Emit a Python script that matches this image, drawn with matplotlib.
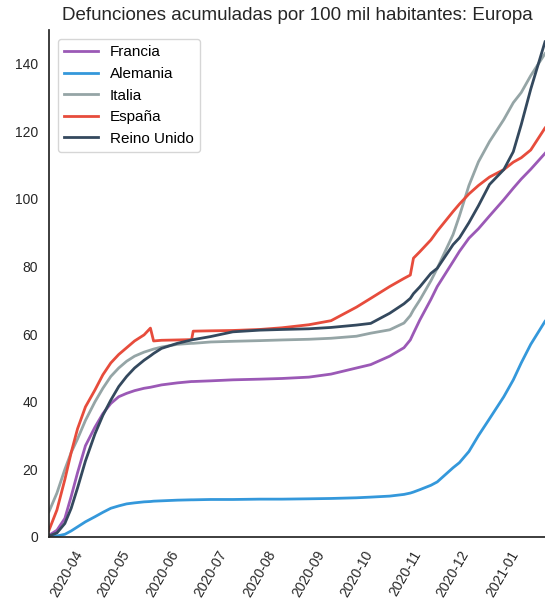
import numpy as np
import pandas as pd
import matplotlib
matplotlib.use('Agg')
import matplotlib.pyplot as plt
import matplotlib.dates as mdates

plt.rcParams['font.family'] = ['Liberation Sans', 'DejaVu Sans']

# fechas de lectura (aprox.) y defunciones acumuladas por 100 mil habitantes
fechas = ['2020-03-21', '2020-03-26', '2020-03-31', '2020-04-04', '2020-04-08',
          '2020-04-13', '2020-04-19', '2020-04-24', '2020-04-29', '2020-05-04',
          '2020-05-09', '2020-05-14', '2020-05-20', '2020-05-24', '2020-05-26',
          '2020-05-31', '2020-06-10', '2020-06-19', '2020-06-20', '2020-07-01',
          '2020-07-15', '2020-08-01', '2020-08-15', '2020-09-01', '2020-09-15',
          '2020-10-01', '2020-10-10', '2020-10-22', '2020-10-31', '2020-11-04',
          '2020-11-06', '2020-11-10', '2020-11-17', '2020-11-21', '2020-12-01',
          '2020-12-05', '2020-12-11', '2020-12-17', '2020-12-24', '2021-01-02',
          '2021-01-08', '2021-01-13', '2021-01-19', '2021-01-28']

francia = [0.5, 2, 5.5, 12, 19, 27, 32.5, 36.5, 39.5, 41.5,
           42.5, 43.3, 44, 44.3, 44.5, 45, 45.6, 46, 46, 46.2,
           46.5, 46.7, 46.9, 47.3, 48.2, 50, 51, 53.5, 56, 58.3,
           60.3, 64.2, 70.3, 74.1, 81.5, 84.5, 88.4, 91.2, 95, 99.8,
           103.2, 105.9, 108.8, 113.5]
alemania = [0.1, 0.3, 0.8, 1.8, 3, 4.5, 6, 7.3, 8.5, 9.2,
            9.8, 10.1, 10.4, 10.5, 10.6, 10.7, 10.9, 11, 11, 11.1,
            11.1, 11.2, 11.2, 11.3, 11.4, 11.6, 11.8, 12.1, 12.6, 13,
            13.3, 14, 15.3, 16.3, 20.5, 22, 25.3, 30, 35, 41.5,
            46.5, 51.5, 57, 63.8]
italia = [7.5, 13, 20, 25, 29, 34.5, 40, 44, 47.5, 50,
          52, 53.5, 54.7, 55.3, 55.6, 56.2, 57, 57.3, 57.3, 57.7,
          57.9, 58.1, 58.3, 58.5, 58.8, 59.4, 60.3, 61.3, 63.3, 65.5,
          67.2, 70.1, 75.8, 79.5, 89.5, 95, 104, 111, 117, 123.5,
          128.5, 131.5, 136.5, 143]
espana = [2, 8, 17, 25, 32, 38.5, 43.5, 48, 51.5, 54,
          56, 58, 59.8, 61.8, 58, 58.2, 58.3, 58.4, 60.9, 61,
          61.1, 61.4, 61.9, 62.8, 64, 68, 70.6, 74.1, 76.5, 77.5,
          82.5, 84.4, 87.9, 90.5, 96.3, 98.5, 101.5, 104, 106.5, 108.7,
          110.9, 112.2, 114.5, 121]
reino_unido = [0.3, 1.2, 4, 8.5, 14.5, 22.5, 30.5, 36, 40.5, 44.5,
               47.5, 50, 52.3, 53.6, 54.3, 55.8, 57.3, 58.3, 58.4, 59.3,
               60.7, 61.2, 61.4, 61.6, 62, 62.7, 63.2, 66.2, 69, 70.6,
               72, 74, 78, 79.5, 86.5, 88.5, 93, 98, 104.3, 108.7,
               114, 122, 132.5, 146.5]

df = pd.DataFrame({'Francia': francia, 'Alemania': alemania, 'Italia': italia,
                   'España': espana, 'Reino Unido': reino_unido},
                  index=pd.to_datetime(fechas))
colores = ['#9b59b6', '#3498db', '#95a5a6', '#e74c3c', '#34495e']

fig = plt.figure(figsize=(5.45, 6.10), dpi=100)
ax = fig.add_axes([49 / 545, 73 / 610, 496 / 545, 507 / 610])

for pais, c in zip(df.columns, colores):
    ax.plot(df.index, df[pais], color=c, lw=2, label=pais)

ax.set_xlim(df.index[0], df.index[-1])
ax.set_ylim(0, 150)
ax.set_yticks([0, 20, 40, 60, 80, 100, 120, 140])
ax.xaxis.set_major_locator(mdates.MonthLocator())
ax.xaxis.set_major_formatter(mdates.DateFormatter('%Y-%m'))
plt.setp(ax.get_xticklabels(), rotation=60)
ax.tick_params(length=0, labelsize=10, colors='#262626', pad=8)

for s in ['top', 'right']:
    ax.spines[s].set_visible(False)
for s in ['left', 'bottom']:
    ax.spines[s].set_color('#262626')
    ax.spines[s].set_linewidth(1.25)

ax.set_title('Defunciones acumuladas por 100 mil habitantes: Europa',
             fontsize=13.5, color='#262626', pad=7)
ax.legend(loc='upper left', fontsize=11, handlelength=2.2,
          borderaxespad=0.6)

plt.savefig('out.png', dpi=100)
